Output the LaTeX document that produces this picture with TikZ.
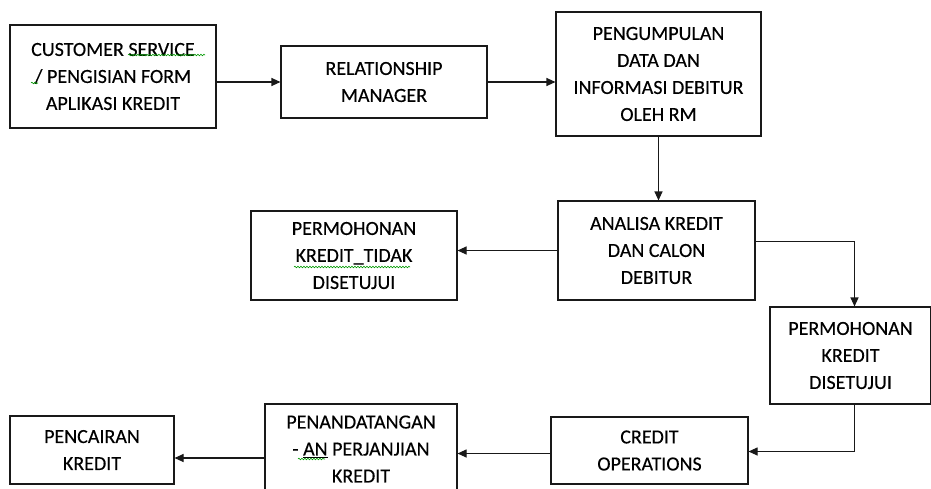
\documentclass[tikz,border=0pt]{standalone}
\usepackage{fontspec}
\setmainfont{Carlito}[FakeBold=0.3]
\usetikzlibrary{arrows.meta,decorations.pathmorphing}
\begin{document}
\begin{tikzpicture}[x=1pt,y=-1pt,
  box/.style={draw=black!90,line width=1.1pt,align=center,inner sep=0pt,
    font=\fontsize{20}{27}\selectfont},
  arr/.style={draw=black!90,line width=1.1pt,-{Triangle[length=9pt,width=8pt]}},
  squiggle/.style={draw=green!60!black,line width=0.6pt,
    decorate,decoration={snake,segment length=3pt,amplitude=0.8pt}}]
\useasboundingbox (0,0) rectangle (931,488);
\node[box,minimum width=206,minimum height=103] (b1) at (113,76.5) {CUSTOMER SERVICE\\/ PENGISIAN FORM\\APLIKASI KREDIT};
\node[box,minimum width=206,minimum height=72] (b2) at (384,82) {RELATIONSHIP\\MANAGER};
\node[box,minimum width=205,minimum height=124] (b3) at (658.5,74) {PENGUMPULAN\\DATA DAN\\INFORMASI DEBITUR\\OLEH RM};
\node[box,minimum width=197,minimum height=99] (b4) at (656.5,250.5) {ANALISA KREDIT\\DAN CALON\\DEBITUR};
\node[box,minimum width=206,minimum height=89] (b5) at (354,255.5) {PERMOHONAN\\KREDIT\_TIDAK\\DISETUJUI};
\node[box,minimum width=161,minimum height=97] (b6) at (850.5,355.5) {PERMOHONAN\\KREDIT\\DISETUJUI};
\node[box,minimum width=197,minimum height=67] (b7) at (649.5,450.5) {CREDIT\\OPERATIONS};
\node[box,minimum width=192,minimum height=90] (b8) at (361,449) {PENANDATANGAN\\- \underline{AN} PERJANJIAN\\KREDIT};
\node[box,minimum width=164,minimum height=68] (b9) at (92,450) {PENCAIRAN\\KREDIT};
\draw[arr] (b1.east |- b2.west) -- (b2.west);
\draw[arr] (b2.east) -- (b2.east -| b3.west);
\draw[arr] (b3.south) -- (b3.south |- b4.north);
\draw[arr] (b4.west) -- (b4.west -| b5.east);
\draw[arr] ([yshift=9pt]b4.east) -| ([xshift=4pt]b6.north);
\draw[arr] ([xshift=4pt]b6.south) |- ([yshift=-1pt]b7.east);
\draw[arr] ([yshift=-3pt]b7.west) -- ([yshift=-3pt]b7.west -| b8.east);
\draw[arr] ([yshift=-8pt]b9.east -| b8.west) -- ([yshift=-8pt]b9.east);
% spell-check underlines
\draw[squiggle] (128,55) -- (205,55);
\draw[squiggle] (31,83) -- (38,83);
\draw[squiggle] (294,267) -- (410,267);
\draw[squiggle] (298,459) -- (325,459);
\end{tikzpicture}
\end{document}
